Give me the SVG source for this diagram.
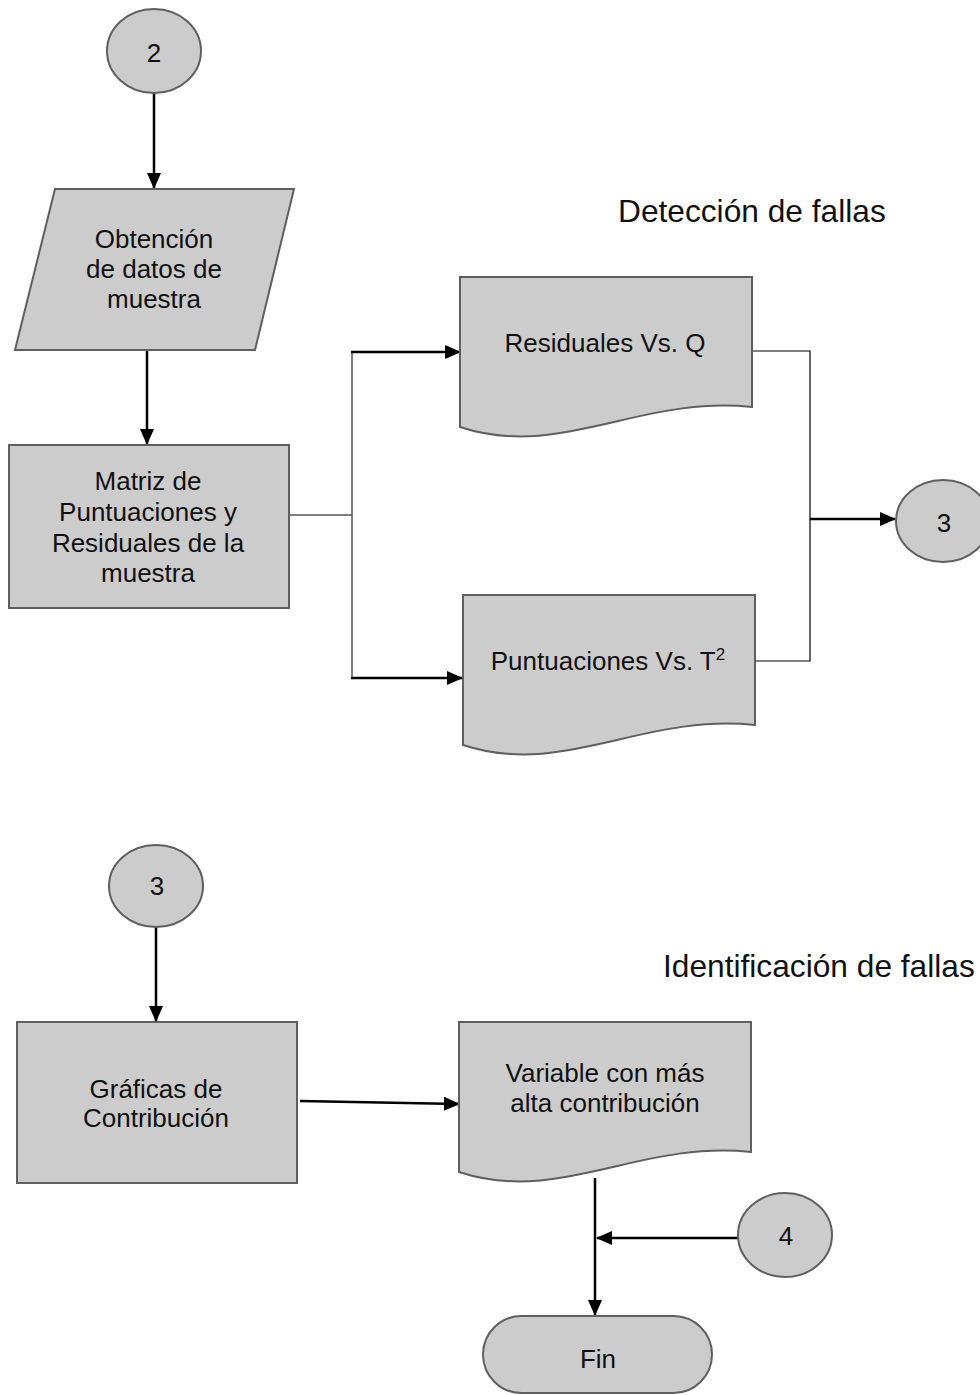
<svg xmlns="http://www.w3.org/2000/svg" xmlns:xlink="http://www.w3.org/1999/xlink" width="980" height="1395" viewBox="0 0 980 1395">
<style>
.shape{fill:#cccccc;stroke:#5f5f5f;stroke-width:2}
.t{font-family:"Liberation Sans",Arial,sans-serif;font-size:26px;fill:#111;text-anchor:middle}
.title{font-family:"Liberation Sans",Arial,sans-serif;font-size:31.7px;fill:#111}
.arr{stroke:#000;stroke-width:2.5;fill:none;marker-end:url(#ah)}
.thin{stroke:#000;stroke-width:1.2;fill:none}
.gray{stroke:#555;stroke-width:1.5;fill:none}
</style>
<defs>
<marker id="ah" markerUnits="userSpaceOnUse" markerWidth="16" markerHeight="14" refX="15" refY="7" orient="auto">
<path d="M0,0 L16,7 L0,14 Z" fill="#000"/>
</marker>
<path id="doc" d="M0,0 H292 V130 C180,118 100,183 0,150 Z"/>
</defs>
<rect width="980" height="1395" fill="#fff"/>

<g id="connectors">
<line class="arr" x1="154" y1="93" x2="154" y2="188"/>
<line class="arr" x1="147" y1="350" x2="147" y2="444"/>
<line class="thin" x1="289" y1="515" x2="352" y2="515"/>
<line class="gray" x1="352" y1="352" x2="352" y2="679"/>
<line class="arr" x1="351" y1="352" x2="460" y2="352"/>
<line class="arr" x1="351" y1="678" x2="462" y2="678"/>
<polyline class="thin" points="752,351 810,351 810,661 753,661"/>
<line class="arr" x1="810" y1="519" x2="895" y2="519"/>
<line class="arr" x1="156" y1="927" x2="156" y2="1021"/>
<line class="arr" x1="300" y1="1101" x2="459" y2="1104"/>
<line class="arr" x1="595" y1="1178" x2="595" y2="1315"/>
<line class="arr" x1="738" y1="1238" x2="597" y2="1238"/>
</g>

<g id="c2">
<ellipse class="shape" cx="154" cy="51" rx="47" ry="42"/>
<text class="t" x="154" y="62">2</text>
</g>

<g id="obtencion">
<polygon class="shape" points="55,189 294,189 255,350 15,350"/>
<text class="t" x="154" y="248">Obtención</text>
<text class="t" x="154" y="278">de datos de</text>
<text class="t" x="154" y="308">muestra</text>
</g>

<g id="matriz">
<rect class="shape" x="9" y="445" width="280" height="163"/>
<text class="t" x="148" y="490">Matriz de</text>
<text class="t" x="148" y="521">Puntuaciones y</text>
<text class="t" x="148" y="552">Residuales de la</text>
<text class="t" x="148" y="582">muestra</text>
</g>

<g id="titulo-deteccion">
<text class="title" x="618" y="222">Detección de fallas</text>
</g>

<g id="residuales">
<use href="#doc" xlink:href="#doc" class="shape" transform="translate(460,277)"/>
<text class="t" x="605" y="352">Residuales Vs. Q</text>
</g>

<g id="puntuaciones">
<use href="#doc" xlink:href="#doc" class="shape" transform="translate(463,595)"/>
<text class="t" x="608" y="670">Puntuaciones Vs. T<tspan font-size="17" dy="-10">2</tspan></text>
</g>

<g id="c3a">
<ellipse class="shape" cx="943" cy="521" rx="47" ry="41"/>
<text class="t" x="944" y="532">3</text>
</g>

<g id="c3b">
<ellipse class="shape" cx="156" cy="886" rx="47" ry="41"/>
<text class="t" x="157" y="895">3</text>
</g>

<g id="titulo-identificacion">
<text class="title" x="663" y="977">Identificación de fallas</text>
</g>

<g id="graficas">
<rect class="shape" x="17" y="1022" width="280" height="161"/>
<text class="t" x="156" y="1098">Gráficas de</text>
<text class="t" x="156" y="1127">Contribución</text>
</g>

<g id="variable">
<use href="#doc" xlink:href="#doc" class="shape" transform="translate(459,1022)"/>
<text class="t" x="605" y="1082">Variable con más</text>
<text class="t" x="605" y="1112">alta contribución</text>
</g>

<g id="c4">
<ellipse class="shape" cx="785" cy="1235" rx="47" ry="42"/>
<text class="t" x="786" y="1245">4</text>
</g>

<g id="fin">
<rect class="shape" x="483" y="1316" width="229" height="77" rx="38.5"/>
<text class="t" x="598" y="1368">Fin</text>
</g>
</svg>
